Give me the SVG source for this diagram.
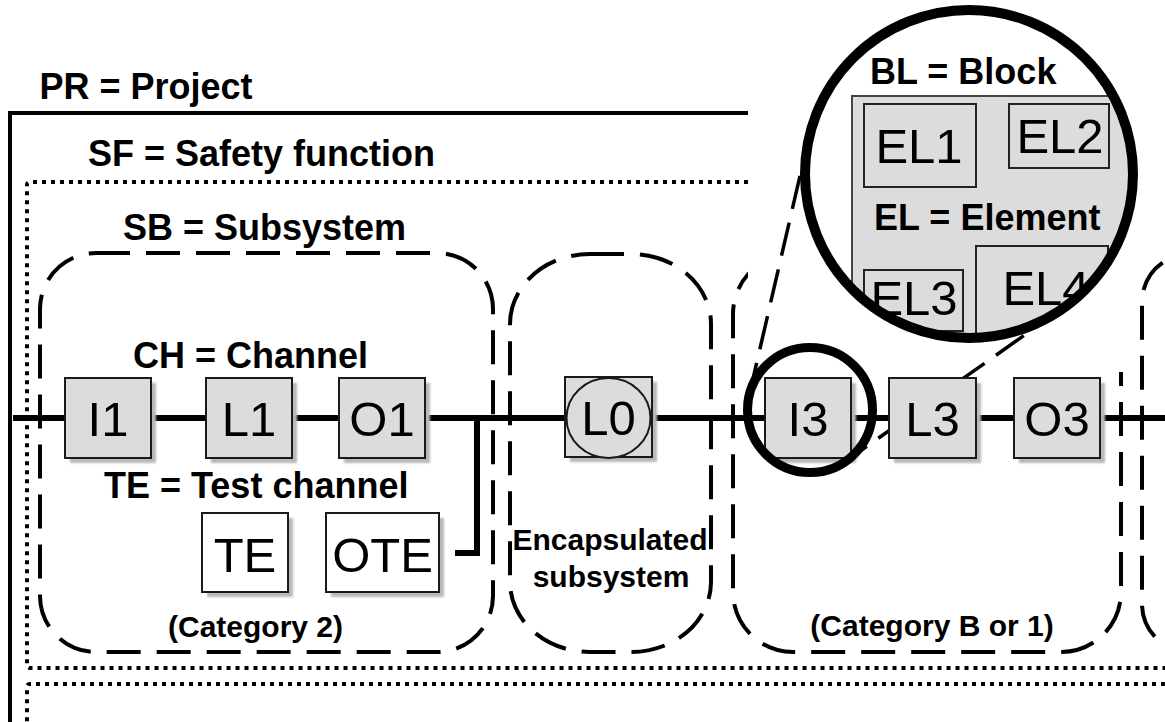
<svg xmlns="http://www.w3.org/2000/svg" width="1165" height="722" viewBox="0 0 1165 722">
<defs>
<style>
.lbl{font-family:"Liberation Sans",Arial,sans-serif;font-weight:bold;fill:#000}
.big{font-size:36px}
.mid{font-size:30px}
.bx{font-family:"Liberation Sans",Arial,sans-serif;font-size:49px;fill:#000;text-anchor:middle}
.box{fill:#dcdcdc;stroke:#1a1a1a;stroke-width:2}
.wbox{fill:#fff;stroke:#1a1a1a;stroke-width:2}
.shd{fill:#b8b8b8;filter:url(#blur)}
.dash{fill:none;stroke:#000;stroke-width:4;stroke-dasharray:34 16}
.dot{fill:none;stroke:#000;stroke-width:4;stroke-dasharray:4 5}
.solid{fill:none;stroke:#000;stroke-width:4}
.wire{fill:none;stroke:#000;stroke-width:6}
.tan{fill:none;stroke:#000;stroke-width:3.5;stroke-dasharray:34 14}
</style>
<filter id="blur" x="-10%" y="-10%" width="120%" height="120%"><feGaussianBlur stdDeviation="1.2"/></filter>
<clipPath id="lens"><circle cx="969" cy="174" r="160"/></clipPath>
</defs>

<g id="frames">
<path class="solid" d="M748,113 H10 V722"/>
<path class="dot" d="M748,182 H30 Q27,182 27,185 V665 Q27,668 30,668 H1165"/>
<path class="dot" d="M1165,684 H30 Q27,684 27,687 V722"/>
</g>

<g id="subsystems">
<rect id="sb-cat2" class="dash" x="40" y="253" width="453" height="399" rx="56"/>
<rect id="sb-encapsulated" class="dash" x="510" y="254" width="201" height="398" rx="80" ry="70"/>
<rect id="sb-catB" class="dash" x="733" y="254" width="388" height="398" rx="60"/>
<rect id="sb-next" class="dash" x="1142" y="254" width="200" height="398" rx="48"/>
<rect id="cover" x="748" y="0" width="388" height="372" fill="#fff"/>
</g>

<g id="connectors">
<path class="wire" d="M13,418 H1165"/>
<path class="wire" d="M477,418 V553 H455"/>
<path class="tan" d="M1063,308 L846,461"/>
</g>

<g id="node-I1"><rect class="shd" x="70" y="383" width="86" height="80"/><rect class="box" x="65" y="378" width="86" height="80"/><text class="bx" x="108" y="436">I1</text></g>
<g id="node-L1"><rect class="shd" x="211" y="383" width="86" height="80"/><rect class="box" x="206" y="378" width="86" height="80"/><text class="bx" x="249" y="436">L1</text></g>
<g id="node-O1"><rect class="shd" x="344" y="383" width="86" height="80"/><rect class="box" x="339" y="378" width="86" height="80"/><text class="bx" x="382" y="436">O1</text></g>
<g id="node-TE"><rect class="shd" x="207" y="518" width="86" height="79"/><rect class="wbox" x="202" y="513" width="86" height="79"/><text class="bx" x="245" y="572">TE</text></g>
<g id="node-OTE"><rect class="shd" x="331" y="518" width="113" height="79"/><rect class="wbox" x="326" y="513" width="113" height="79"/><text class="bx" x="382.5" y="572">OTE</text></g>
<g id="node-L0"><rect class="shd" x="570" y="382" width="87" height="80"/><rect class="box" x="565" y="377" width="87" height="80"/><ellipse cx="608.5" cy="418" rx="42" ry="40" fill="#dcdcdc" stroke="#1a1a1a" stroke-width="2"/><text class="bx" x="608.5" y="435">L0</text></g>
<g id="node-I3"><rect class="shd" x="770" y="383" width="86" height="80"/><rect class="box" x="765" y="378" width="86" height="80"/><text class="bx" x="808" y="436">I3</text></g>
<g id="node-L3"><rect class="shd" x="894" y="383" width="87" height="80"/><rect class="box" x="889" y="378" width="87" height="80"/><text class="bx" x="932.5" y="436">L3</text></g>
<g id="node-O3"><rect class="shd" x="1019" y="383" width="86" height="80"/><rect class="box" x="1014" y="378" width="86" height="80"/><text class="bx" x="1057" y="436">O3</text></g>

<g id="magnifier">
<circle cx="810" cy="410" r="62.5" fill="none" stroke="#000" stroke-width="9"/>
<path class="tan" d="M749,396 L809,137"/>
<circle cx="969" cy="174" r="164" fill="#fff"/>
<g clip-path="url(#lens)">
<rect x="852" y="96" width="300" height="300" fill="#dcdcdc" stroke="#444" stroke-width="2"/>
<rect x="864" y="104" width="112" height="83" fill="#dcdcdc" stroke="#222" stroke-width="2"/>
<rect x="1009" y="104" width="100" height="64" fill="#dcdcdc" stroke="#222" stroke-width="2"/>
<rect x="864" y="270" width="99" height="61" fill="#dcdcdc" stroke="#222" stroke-width="2"/>
<rect x="976" y="246" width="132" height="120" fill="#dcdcdc" stroke="#222" stroke-width="2"/>
<text class="bx" x="919" y="163">EL1</text>
<text class="bx" x="1060" y="153">EL2</text>
<text class="bx" x="914" y="315">EL3</text>
<text class="bx" x="1046" y="305">EL4</text>
<text class="lbl big" x="874" y="230">EL = Element</text>
</g>
<circle cx="969" cy="174" r="164" fill="none" stroke="#000" stroke-width="10"/>
<text class="lbl big" x="870" y="84">BL = Block</text>
</g>

<g id="labels">
<text class="lbl big" x="39.5" y="99">PR = Project</text>
<text class="lbl big" x="88" y="166">SF = Safety function</text>
<text class="lbl big" x="123" y="240">SB = Subsystem</text>
<text class="lbl big" x="133" y="368">CH = Channel</text>
<text class="lbl big" x="104" y="498">TE = Test channel</text>
<text class="lbl mid" x="168" y="637">(Category 2)</text>
<text class="lbl mid" x="610" y="550" text-anchor="middle">Encapsulated</text>
<text class="lbl mid" x="611" y="587" text-anchor="middle">subsystem</text>
<text class="lbl mid" x="932" y="636" text-anchor="middle">(Category B or 1)</text>
</g>
</svg>
